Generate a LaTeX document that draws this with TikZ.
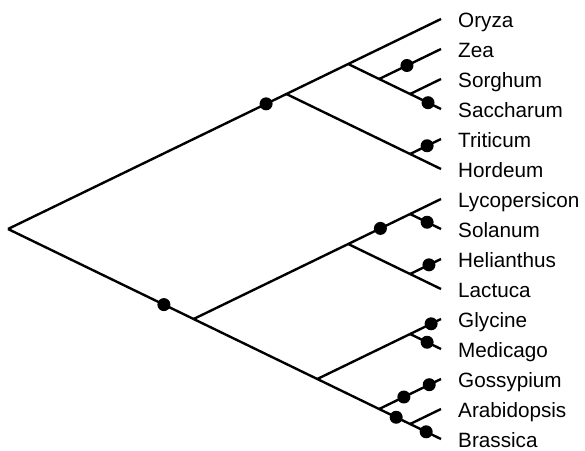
\documentclass[tikz,border=0pt]{standalone}
\usepackage{fontspec}
\setmainfont{Liberation Sans}
\begin{document}
\begin{tikzpicture}[x=1pt,y=-1pt,
  branch/.style={line width=2.4pt,black},
  marker/.style={circle,fill=black,inner sep=0pt,minimum size=13pt},
  taxon/.style={anchor=base west,inner sep=0pt,font=\fontsize{20.7}{24}\selectfont}]
\useasboundingbox (0,0) rectangle (585,450);

% leaf tips and taxon labels
\foreach \name [count=\i from 0] in {Oryza,Zea,Sorghum,Saccharum,Triticum,Hordeum,
    Lycopersicon,Solanum,Helianthus,Lactuca,Glycine,Medicago,Gossypium,Arabidopsis,Brassica}{
  \coordinate (tip\i) at (441,19+30*\i);
  \node[taxon] (lab\i) at (458,27+30*\i) {\name};
}

% internal nodes of the slanted cladogram
\coordinate (root) at (8,229);
\coordinate (nG)   at (286.4,94);
\coordinate (nOZ)  at (348.2,64);
\coordinate (nZSS) at (379.1,79);
\coordinate (nSS)  at (410.1,94);
\coordinate (nTH)  at (410.1,154);
\coordinate (nD)   at (193.6,319);
\coordinate (nLL)  at (348.2,244);
\coordinate (nLS)  at (410.1,214);
\coordinate (nHL)  at (410.1,274);
\coordinate (nGB)  at (317.3,379);
\coordinate (nGM)  at (410.1,334);
\coordinate (nGAB) at (379.1,409);
\coordinate (nAB)  at (410.1,424);

% grasses
\draw[branch] (root) -- node[marker,pos=0.927] (m1) {} (nG);
\draw[branch] (nG) -- (nOZ);
\draw[branch] (nOZ) -- (tip0);
\draw[branch] (nOZ) -- (nZSS);
\draw[branch] (nZSS) -- node[marker,pos=0.45] (m2) {} (tip1);
\draw[branch] (nZSS) -- (nSS);
\draw[branch] (nSS) -- (tip2);
\draw[branch] (nSS) -- node[marker,pos=0.58] (m3) {} (tip3);
\draw[branch] (nG) -- (nTH);
\draw[branch] (nTH) -- node[marker,pos=0.55] (m4) {} (tip4);
\draw[branch] (nTH) -- (tip5);

% dicots
\draw[branch] (root) -- node[marker,pos=0.84] (m5) {} (nD);
\draw[branch] (nD) -- (nLL);
\draw[branch] (nLL) -- node[marker,pos=0.52] (m6) {} (nLS);
\draw[branch] (nLS) -- (tip6);
\draw[branch] (nLS) -- node[marker,pos=0.55] (m7) {} (tip7);
\draw[branch] (nLL) -- (nHL);
\draw[branch] (nHL) -- node[marker,pos=0.61] (m8) {} (tip8);
\draw[branch] (nHL) -- (tip9);
\draw[branch] (nD) -- (nGB);
\draw[branch] (nGB) -- (nGM);
\draw[branch] (nGM) -- node[marker,pos=0.68] (m9) {} (tip10);
\draw[branch] (nGM) -- node[marker,pos=0.55] (m10) {} (tip11);
\draw[branch] (nGB) -- (nGAB);
\draw[branch] (nGAB) -- node[marker,pos=0.40] (m11) {} node[marker,pos=0.81] (m12) {} (tip12);
\draw[branch] (nGAB) -- node[marker,pos=0.55] (m13) {} (nAB);
\draw[branch] (nAB) -- (tip13);
\draw[branch] (nAB) -- node[marker,pos=0.52] (m14) {} (tip14);
\end{tikzpicture}
\end{document}
